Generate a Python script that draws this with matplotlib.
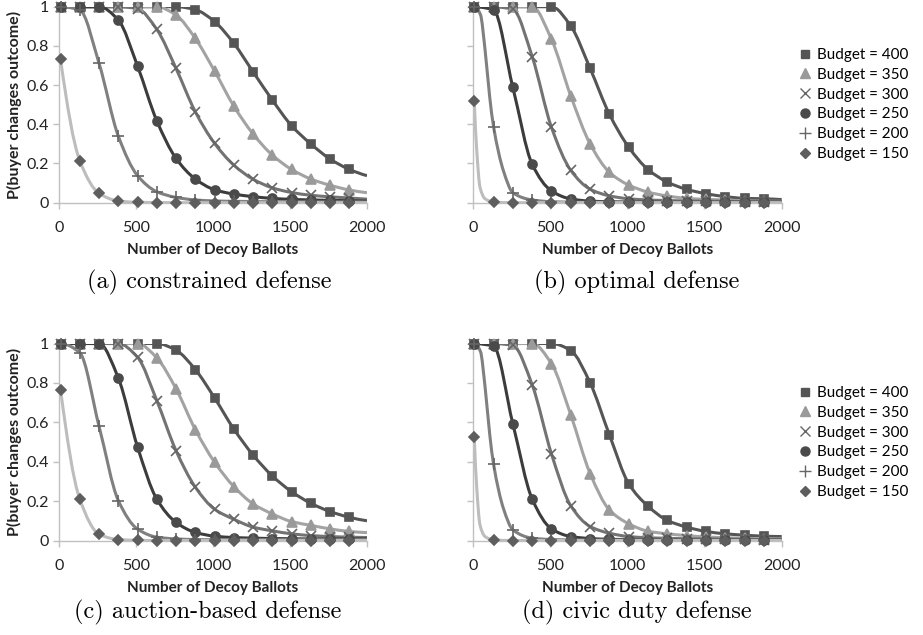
import numpy as np
import matplotlib
matplotlib.use("Agg")
import matplotlib.pyplot as plt
from matplotlib.path import Path
from matplotlib.patches import PathPatch
from matplotlib.lines import Line2D

# marker positions (number of decoy ballots)
x_marks = [10, 135, 260, 385, 510, 635, 760, 885, 1010, 1135, 1260, 1385, 1510, 1635, 1760, 1885]
x_end = 2000
budgets = [400, 350, 300, 250, 200, 150]

# (a) constrained defense, rows follow budgets
constrained = [
    [1, 1, 1, 1, 1, 1, 1, 0.985, 0.924, 0.813, 0.668, 0.524, 0.393, 0.300, 0.223, 0.170],
    [1, 1, 1, 1, 1, 1, 0.957, 0.838, 0.672, 0.493, 0.351, 0.243, 0.170, 0.121, 0.089, 0.065],
    [1, 1, 1, 1, 0.99, 0.884, 0.685, 0.464, 0.303, 0.192, 0.120, 0.076, 0.052, 0.038, 0.030, 0.024],
    [1, 1, 1, 0.932, 0.697, 0.418, 0.226, 0.121, 0.066, 0.044, 0.031, 0.022, 0.017, 0.014, 0.012, 0.010],
    [1, 0.983, 0.711, 0.340, 0.138, 0.056, 0.027, 0.014, 0.009, 0.007, 0.006, 0.005, 0.005, 0.004, 0.004, 0.004],
    [0.731, 0.214, 0.048, 0.009, 0.002, 0.001, 0, 0, 0, 0, 0, 0, 0, 0, 0, 0],
]
constrained_end = [0.138, 0.051, 0.018, 0.008, 0.003, 0]

# (b) optimal defense
optimal = [
    [1, 1, 1, 1, 1, 0.901, 0.685, 0.451, 0.283, 0.169, 0.105, 0.068, 0.046, 0.031, 0.022, 0.020],
    [1, 1, 1, 1, 0.833, 0.544, 0.300, 0.155, 0.090, 0.054, 0.034, 0.022, 0.017, 0.014, 0.010, 0.008],
    [1, 1, 0.986, 0.745, 0.384, 0.165, 0.069, 0.035, 0.020, 0.014, 0.011, 0.009, 0.008, 0.007, 0.006, 0.005],
    [1, 0.983, 0.588, 0.196, 0.060, 0.019, 0.008, 0.005, 0.004, 0.004, 0.003, 0.003, 0.003, 0.003, 0.003, 0.003],
    [1, 0.388, 0.051, 0.014, 0.005, 0.003, 0.002, 0.002, 0.002, 0.002, 0.002, 0.002, 0.002, 0.002, 0.002, 0.002],
    [0.519, 0.003, 0, 0, 0, 0, 0, 0, 0, 0, 0, 0, 0, 0, 0, 0],
]
optimal_end = [0.016, 0.007, 0.005, 0.003, 0.002, 0]

# (c) auction-based defense
auction = [
    [1, 1, 1, 1, 1, 1, 0.966, 0.868, 0.724, 0.566, 0.434, 0.328, 0.248, 0.189, 0.147, 0.118],
    [1, 1, 1, 1, 1, 0.927, 0.770, 0.563, 0.398, 0.274, 0.186, 0.135, 0.096, 0.077, 0.059, 0.046],
    [1, 1, 1, 1, 0.930, 0.710, 0.456, 0.271, 0.159, 0.108, 0.068, 0.049, 0.034, 0.025, 0.020, 0.017],
    [1, 1, 1, 0.825, 0.475, 0.210, 0.092, 0.041, 0.022, 0.015, 0.012, 0.010, 0.009, 0.008, 0.008, 0.008],
    [1, 0.953, 0.580, 0.203, 0.058, 0.017, 0.008, 0.005, 0.004, 0.004, 0.004, 0.004, 0.004, 0.004, 0.004, 0.004],
    [0.766, 0.210, 0.032, 0.005, 0.001, 0, 0, 0, 0, 0, 0, 0, 0, 0, 0, 0],
]
auction_end = [0.100, 0.040, 0.015, 0.008, 0.004, 0]

# (d) civic duty defense
civic = [
    [1, 1, 1, 1, 1, 0.964, 0.800, 0.536, 0.288, 0.174, 0.102, 0.068, 0.046, 0.034, 0.027, 0.022],
    [1, 1, 1, 1, 0.897, 0.637, 0.340, 0.155, 0.085, 0.047, 0.034, 0.025, 0.018, 0.014, 0.011, 0.009],
    [1, 1, 0.990, 0.790, 0.439, 0.176, 0.071, 0.037, 0.020, 0.014, 0.011, 0.009, 0.008, 0.007, 0.006, 0.005],
    [1, 0.986, 0.592, 0.210, 0.059, 0.020, 0.010, 0.006, 0.005, 0.004, 0.004, 0.003, 0.003, 0.003, 0.003, 0.003],
    [1, 0.388, 0.054, 0.012, 0.005, 0.003, 0.002, 0.002, 0.002, 0.002, 0.002, 0.002, 0.002, 0.002, 0.002, 0.002],
    [0.524, 0.003, 0, 0, 0, 0, 0, 0, 0, 0, 0, 0, 0, 0, 0, 0],
]
civic_end = [0.020, 0.008, 0.005, 0.003, 0.002, 0]

# extra line-only readings where the curves drop fast between markers
constrained_extra = {}
optimal_extra = {150: ([26, 47, 80], [0.27, 0.08, 0.02]),
                 200: ([50, 80, 110, 200], [0.96, 0.78, 0.54, 0.16])}
auction_extra = {}
civic_extra = {150: ([26, 47, 80], [0.27, 0.08, 0.02]),
               200: ([50, 80, 110, 200], [0.96, 0.78, 0.54, 0.16])}

captions = ["(a) constrained defense", "(b) optimal defense",
            "(c) auction-based defense", "(d) civic duty defense"]

line_colors = ["#555555", "#a3a3a3", "#737373", "#3c3c3c", "#808080", "#bdbdbd"]
mark_colors = ["#555555", "#9a9a9a", "#666666", "#4a4a4a", "#666666", "#5e5e5e"]
markers = ["s", "^", "x", "o", "+", "D"]
msizes = [6, 6.5, 6.5, 6.5, 8, 5]

plt.rcParams['font.family'] = ['Lato', 'DejaVu Sans']


def end_slope(h0, h1, d0, d1):
    m = ((2 * h0 + h1) * d0 - h0 * d1) / (h0 + h1)
    if np.sign(m) != np.sign(d0):
        return 0.0
    if np.sign(d0) != np.sign(d1) and abs(m) > abs(3 * d0):
        return 3 * d0
    return m


def smooth_path(x, y):
    # monotone cubic bezier through the points, like a spreadsheet smoothed line
    x = np.asarray(x, float)
    y = np.asarray(y, float)
    h = np.diff(x)
    d = np.diff(y) / h
    m = np.zeros(len(x))
    m[0] = end_slope(h[0], h[1], d[0], d[1])
    m[-1] = end_slope(h[-1], h[-2], d[-1], d[-2])
    for i in range(1, len(x) - 1):
        if d[i - 1] * d[i] <= 0:
            m[i] = 0
        else:
            h0, h1 = h[i - 1], h[i]
            m[i] = 3 * (h0 + h1) / ((2 * h1 + h0) / d[i - 1] + (h1 + 2 * h0) / d[i])
    verts = [(x[0], y[0])]
    codes = [Path.MOVETO]
    for i in range(len(x) - 1):
        verts.append((x[i] + h[i] / 3, y[i] + m[i] * h[i] / 3))
        verts.append((x[i + 1] - h[i] / 3, y[i + 1] - m[i + 1] * h[i] / 3))
        verts.append((x[i + 1], y[i + 1]))
        codes += [Path.CURVE4] * 3
    return Path(verts, codes)


fig = plt.figure(figsize=(9.23, 6.35), dpi=100)
panels = [
    (constrained, constrained_end, constrained_extra, [59 / 923, 1 - 202.7 / 635, 308 / 923, 196 / 635]),
    (optimal, optimal_end, optimal_extra, [472.7 / 923, 1 - 202.7 / 635, 309 / 923, 196 / 635]),
    (auction, auction_end, auction_extra, [59 / 923, 1 - 540.5 / 635, 308 / 923, 197 / 635]),
    (civic, civic_end, civic_extra, [472.7 / 923, 1 - 540.5 / 635, 309 / 923, 197 / 635]),
]
caption_x = [209 / 923, 637 / 923, 208 / 923, 637 / 923]

for k, (rows, ends, extra, rect) in enumerate(panels):
    ax = fig.add_axes(rect)
    for j, b in enumerate(budgets):
        lx = list(x_marks) + [x_end]
        ly = list(rows[j]) + [ends[j]]
        if b in extra:
            ex, ey = extra[b]
            pts = sorted(zip(lx + ex, ly + ey))
            lx = [p[0] for p in pts]
            ly = [p[1] for p in pts]
        ax.add_patch(PathPatch(smooth_path(lx, ly), facecolor="none",
                               edgecolor=line_colors[j], lw=2.2, zorder=2 + j * 0.1))
    for j, b in enumerate(budgets):
        ax.plot(x_marks, rows[j], ls="none", marker=markers[j], ms=msizes[j],
                color=mark_colors[j], mec=mark_colors[j], mew=1.2, zorder=4, clip_on=False)
    ax.set_xlim(0, 2000)
    ax.set_ylim(0, 1)
    ax.set_xticks([0, 500, 1000, 1500, 2000])
    ax.set_yticks([0, 0.2, 0.4, 0.6, 0.8, 1])
    for s in ["top", "right"]:
        ax.spines[s].set_visible(False)
    for s in ["left", "bottom"]:
        ax.spines[s].set_color("#c0c0c0")
        ax.spines[s].set_linewidth(1.0)
    ax.tick_params(colors="#c0c0c0", labelcolor="#222222", labelsize=11.5, length=4, width=1)
    ax.tick_params(axis="x", pad=9)
    ax.set_xlabel("Number of Decoy Ballots", fontsize=11, fontweight="bold", color="#222222", labelpad=6)
    if k % 2 == 0:
        ax.set_yticklabels(["0", "0.2", "0.4", "0.6", "0.8", "1"])
        ax.set_ylabel("P(buyer changes outcome)", fontsize=11.5, fontweight="bold", color="#222222", labelpad=3)
    else:
        ax.set_yticklabels([])
    cy = 1 - 282 / 635 if k < 2 else 1 - 612 / 635
    fig.text(caption_x[k], cy, captions[k], ha="center", va="center", fontsize=17.5, family="cmr10")

    if k % 2 == 1:
        handles = [Line2D([], [], ls="none", marker=markers[j], ms=msizes[j], color=mark_colors[j],
                          mec=mark_colors[j], mew=1.0) for j in range(len(budgets))]
        labels = ["Budget = %d" % b for b in budgets]
        top = 48 / 635 if k == 1 else 386 / 635
        fig.legend(handles, labels, loc="upper left", bbox_to_anchor=(799 / 923, 1 - top),
                   frameon=False, fontsize=11, handlelength=0.8, handletextpad=0.4,
                   labelspacing=0.38, borderaxespad=0, borderpad=0)

fig.savefig("out.png", dpi=100)
